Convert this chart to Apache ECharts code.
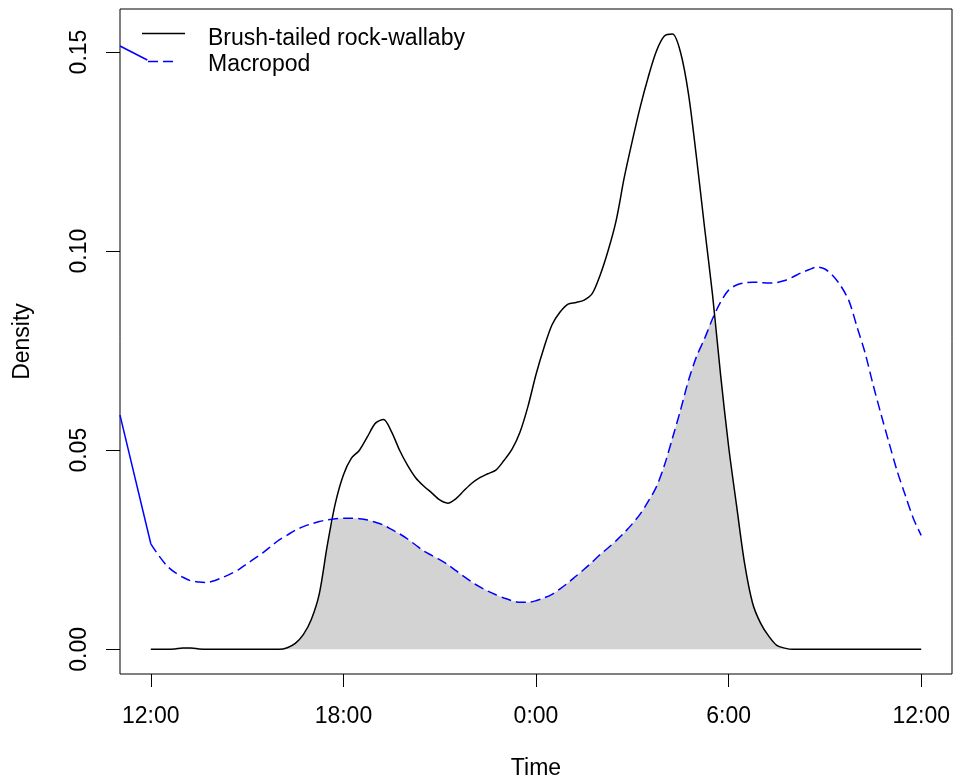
<!DOCTYPE html>
<html><head><meta charset="utf-8">
<script src="https://cdn.jsdelivr.net/npm/echarts@6/dist/echarts.min.js"></script>
<style>html,body{margin:0;padding:0;background:#fff}#c{width:957px;height:778px}</style>
</head><body><div id="c"></div>
<script>
// Time of day in hours (12 = noon, 24 = midnight, 36 = next noon)
const hours = [12,12.25,12.5,12.75,13,13.25,13.5,13.75,14,14.25,14.5,14.75,15,15.25,15.5,15.75,
16,16.25,16.5,16.75,17,17.25,17.5,17.75,18,18.25,18.5,18.75,19,19.25,19.5,19.75,
20,20.25,20.5,20.75,21,21.25,21.5,21.75,22,22.25,22.5,22.75,23,23.25,23.5,23.75,
24,24.25,24.5,24.75,25,25.25,25.5,25.75,26,26.25,26.5,26.75,27,27.25,27.5,27.75,
28,28.25,28.5,28.75,29,29.25,29.5,29.75,30,30.25,30.5,30.75,31,31.25,31.5,31.75,
32,32.25,32.5,32.75,33,33.25,33.5,33.75,34,34.25,34.5,34.75,35,35.25,35.5,35.75,36];

const rockWallaby = [0,0,0,0.0001,0.0003,0.0003,0.0001,0,0,0,0,0,0,0,0,0,
0,0.0004,0.0015,0.0037,0.0075,0.014,0.0262,0.0367,0.0438,0.048,0.050,0.0534,0.0568,0.0577,0.0546,0.050,
0.0462,0.0431,0.041,0.0393,0.0375,0.0367,0.0378,0.0398,0.0417,0.0431,0.0441,0.045,0.0474,0.0502,0.0545,0.061,
0.069,0.0758,0.0815,0.0847,0.0867,0.0871,0.0877,0.0893,0.094,0.1002,0.1078,0.1185,0.1277,0.1363,0.1438,0.1502,
0.154,0.1545,0.150,0.1395,0.1235,0.106,0.089,0.069,0.051,0.036,0.0215,0.0115,0.0065,0.0033,0.001,0.0003,
0,0,0,0,0,0,0,0,0,0,0,0,0,0,0,0,0];

const macropod = [0.0265,0.0235,0.021,0.0193,0.0181,0.0172,0.0169,0.0168,0.0173,0.0181,0.019,0.0201,0.0215,0.0229,0.0243,0.0259,
0.0275,0.0287,0.0299,0.0308,0.0315,0.0321,0.0325,0.0328,0.0329,0.0329,0.0328,0.0325,0.0319,0.0312,0.0301,0.029,
0.0277,0.0262,0.0247,0.0236,0.0225,0.0213,0.0198,0.0183,0.0169,0.0157,0.0146,0.0137,0.0129,0.0122,0.0118,0.0118,
0.0122,0.0129,0.0138,0.0152,0.0167,0.0184,0.0201,0.0219,0.0238,0.0255,0.0273,0.0293,0.0315,0.034,0.0372,0.0408,
0.0462,0.053,0.060,0.0675,0.0735,0.078,0.083,0.0872,0.0902,0.0915,0.092,0.0922,0.0921,0.092,0.0921,0.0926,
0.0935,0.0945,0.0953,0.096,0.0955,0.0938,0.0912,0.0875,0.081,0.0745,0.0665,0.059,0.0518,0.0448,0.0388,0.033,0.0286];

// stray solid blue segments visible at the left edge of the reference
const strayLowX = [11.04, 12.0];
const strayLowY = [0.0588, 0.0265];
const strayTopX = [11.04, 11.89];
const strayTopY = [0.1515, 0.148];

const seriesNames = ['Brush-tailed rock-wallaby', 'Macropod'];
const xTickValues = [12, 18, 24, 30, 36];
const xTickLabels = ['12:00', '18:00', '0:00', '6:00', '12:00'];
const yTickValues = [0, 0.05, 0.10, 0.15];
const yTickLabels = ['0.00', '0.05', '0.10', '0.15'];

const FONT = 'Liberation Sans, Arial, Helvetica, sans-serif';
const FS = 23;
const pair = (xs, ys) => xs.map((x, i) => [x, ys[i]]);
const overlap = hours.map((h, i) => [h, Math.min(rockWallaby[i], macropod[i])]);

const chart = echarts.init(document.getElementById('c'), null, {renderer: 'canvas'});
chart.setOption({
  animation: false,
  backgroundColor: '#fff',
  grid: {left: 120, top: 9, right: 5, bottom: 104, show: true, borderColor: '#000', borderWidth: 1,
    backgroundColor: 'transparent', outerBoundsMode: 'none', containLabel: false},
  xAxis: {
    type: 'value', min: 11.04, max: 36.96,
    name: 'Time', nameLocation: 'middle', nameGap: 83,
    nameTextStyle: {fontFamily: FONT, fontSize: FS, color: '#000'},
    axisLine: {show: false, onZero: false},
    splitLine: {show: false},
    axisTick: {show: true, customValues: xTickValues, length: 13, lineStyle: {color: '#000', width: 1}},
    axisLabel: {customValues: xTickValues, margin: 31, fontFamily: FONT, fontSize: FS, color: '#000',
      formatter: v => xTickLabels[xTickValues.indexOf(v)]}
  },
  yAxis: {
    type: 'value', min: -0.0062, max: 0.1608,
    name: 'Density', nameLocation: 'middle', nameGap: 86,
    nameTextStyle: {fontFamily: FONT, fontSize: FS, color: '#000'},
    axisLine: {show: false, onZero: false},
    splitLine: {show: false},
    axisTick: {show: true, customValues: yTickValues, length: 14, lineStyle: {color: '#000', width: 1}},
    axisLabel: {customValues: yTickValues, rotate: 90, margin: 29, fontFamily: FONT, fontSize: FS, color: '#000',
      formatter: v => yTickLabels[yTickValues.findIndex(t => Math.abs(t - v) < 1e-9)]}
  },
  series: [
    {name: 'overlap', type: 'line', data: overlap, symbol: 'none', smooth: 0.3, z: 1,
      lineStyle: {width: 0}, areaStyle: {color: '#D3D3D3', opacity: 1}, silent: true},
    {name: seriesNames[0], type: 'line', data: pair(hours, rockWallaby), symbol: 'none', smooth: 0.3, z: 3,
      lineStyle: {color: '#000', width: 1.5}},
    {name: seriesNames[1], type: 'line', data: pair(hours, macropod), symbol: 'none', smooth: 0.3, z: 4,
      lineStyle: {color: '#0000FF', width: 1.5, type: [10, 5]}},
    {name: 'strayLow', type: 'line', data: pair(strayLowX, strayLowY), symbol: 'none', z: 4,
      lineStyle: {color: '#0000FF', width: 1.5}, silent: true},
    {name: 'strayTop', type: 'line', data: pair(strayTopX, strayTopY), symbol: 'none', z: 4,
      lineStyle: {color: '#0000FF', width: 1.5}, silent: true}
  ],
  graphic: [
    {type: 'line', shape: {x1: 142, y1: 33.5, x2: 185, y2: 33.5}, style: {stroke: '#000', lineWidth: 1.5}, z: 10},
    {type: 'line', shape: {x1: 148, y1: 61.5, x2: 173, y2: 61.5}, style: {stroke: '#0000FF', lineWidth: 1.5, lineDash: [10, 5]}, z: 10},
    {type: 'text', x: 208, y: 38.5, style: {text: seriesNames[0], font: FS + 'px ' + FONT, fill: '#000', verticalAlign: 'middle', textVerticalAlign: 'middle'}, z: 10},
    {type: 'text', x: 208, y: 64.5, style: {text: seriesNames[1], font: FS + 'px ' + FONT, fill: '#000', verticalAlign: 'middle', textVerticalAlign: 'middle'}, z: 10}
  ]
});
</script>
</body></html>
